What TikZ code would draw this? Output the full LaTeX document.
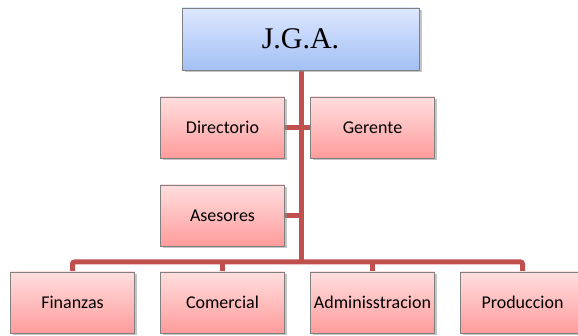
\documentclass[tikz,border=0pt]{standalone}
\usepackage{fontspec}
\setmainfont{Carlito}
\newfontfamily\serifjga{Liberation Serif}
\usetikzlibrary{shadows,backgrounds}
\definecolor{connred}{HTML}{C0504D}
\definecolor{pinktop}{HTML}{FFDEDE}
\definecolor{pinkbot}{HTML}{FF9C9C}
\definecolor{bluetop}{HTML}{DDE7FF}
\definecolor{bluebot}{HTML}{A3C0F5}
\definecolor{edgegrey}{HTML}{808080}
\tikzset{
  orgbox/.style={draw=edgegrey, line width=0.8pt, top color=pinktop, bottom color=pinkbot,
    minimum width=124pt, minimum height=61pt, inner sep=0pt,
    font=\fontsize{18}{20}\selectfont,
    drop shadow={shadow xshift=2.5pt, shadow yshift=-2.5pt, fill=black!45, opacity=0.5}},
  topbox/.style={orgbox, top color=bluetop, bottom color=bluebot,
    minimum width=237pt, minimum height=62pt, font=\serifjga\fontsize{30}{32}\selectfont},
  conn/.style={draw=connred, line width=5pt}
}
\begin{document}
\begin{tikzpicture}[x=1pt,y=-1pt]
\useasboundingbox (0,0) rectangle (578,336);
\node[topbox] (jga) at (300.5,39) {J.G.A.};
\node[orgbox] (dir) at (222.5,127.5) {Directorio};
\node[orgbox] (ger) at (372.5,127.5) {Gerente};
\node[orgbox] (ase) at (222.5,215.5) {Asesores};
\node[orgbox] (fin) at (72.5,302.5) {Finanzas};
\node[orgbox] (com) at (222.5,302.5) {Comercial};
\node[orgbox] (adm) at (372.5,302.5) {Adminisstracion};
\node[orgbox] (pro) at (522.5,302.5) {Produccion};
\coordinate (bus) at (301,262);
\begin{pgfonlayer}{background}
\draw[conn] (jga.south -| bus) -- (bus);
\draw[conn] (dir.east) -- (ger.west);
\draw[conn] (ase.east) -- (ase.east -| bus);
\draw[conn, rounded corners=2pt] (fin.north) -- (fin.north |- bus) -- (pro.north |- bus) -- (pro.north);
\draw[conn] (com.north) -- (com.north |- bus);
\draw[conn] (adm.north) -- (adm.north |- bus);
\end{pgfonlayer}
\end{tikzpicture}
\end{document}
